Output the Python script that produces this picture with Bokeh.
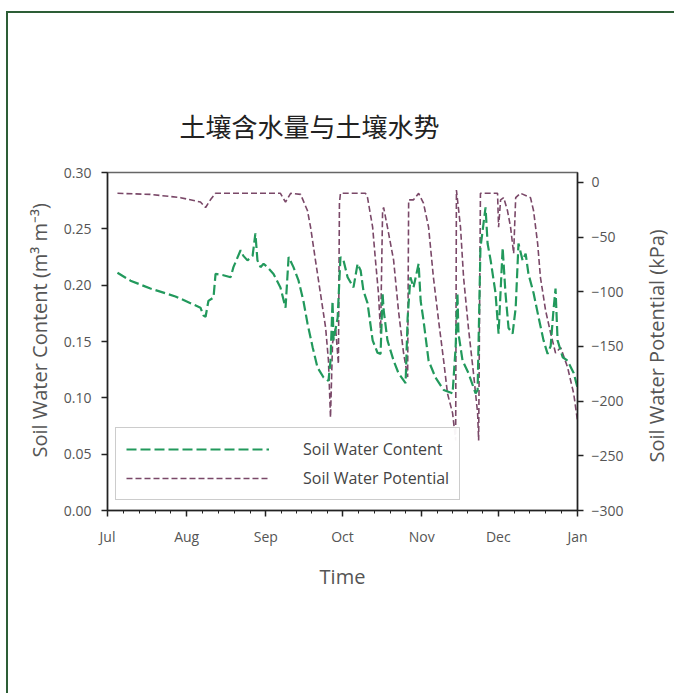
import math
from bokeh.plotting import figure
from bokeh.layouts import row
from bokeh.models import (Range1d, LinearAxis, FixedTicker, Legend, LegendItem,
                          NumeralTickFormatter, Title)
from bokeh.embed import file_html
from bokeh.resources import INLINE

# ---- data (days since 1 July) ----
month_labels = ["Jul", "Aug", "Sep", "Oct", "Nov", "Dec", "Jan"]
month_start_days = [0, 31, 62, 92, 123, 153, 184]

swc_ticks = [0.00, 0.05, 0.10, 0.15, 0.20, 0.25, 0.30]
swp_ticks = [0, -50, -100, -150, -200, -250, -300]

swc_days = [3.9, 9.0, 16.8, 26.6, 36.4, 37.6, 38.4, 39.5, 41.5, 42.3, 45.0, 48.2, 49.3, 52.1,
            53.2, 54.8, 56.8, 57.9, 58.7, 59.9, 61.1, 62.6, 65.0, 67.7, 69.7, 70.9, 72.8,
            74.8, 76.7, 78.3, 80.3, 82.2, 84.6, 86.5, 87.3, 88.1, 88.5, 90.1, 91.2, 92.4,
            94.0, 96.3, 97.9, 99.1, 100.2, 101.8, 103.8, 105.7, 106.9, 107.7, 108.1, 109.6,
            112.0, 113.9, 116.7, 117.5, 118.6, 119.8, 121.8, 122.6, 123.7, 125.7, 128.4,
            131.6, 135.1, 136.3, 137.0, 137.4, 139.0, 141.3, 144.1, 144.9, 146.0, 148.0,
            148.8, 150.0, 151.9, 153.1, 154.7, 155.8, 157.0, 158.6, 159.8, 160.9, 162.5,
            163.7, 164.8, 166.8, 168.8, 170.7, 172.3, 173.5, 174.6, 175.4, 176.2, 178.2,
            180.1, 182.5, 184.0]
swc_values = [0.211, 0.204, 0.197, 0.190, 0.180, 0.173, 0.172, 0.186, 0.189, 0.210, 0.209,
              0.207, 0.216, 0.231, 0.226, 0.222, 0.226, 0.246, 0.222, 0.216, 0.219, 0.216,
              0.210, 0.198, 0.180, 0.225, 0.216, 0.204, 0.186, 0.166, 0.145, 0.127, 0.118,
              0.115, 0.133, 0.186, 0.151, 0.171, 0.225, 0.222, 0.207, 0.198, 0.219, 0.213,
              0.195, 0.184, 0.151, 0.140, 0.139, 0.193, 0.178, 0.151, 0.133, 0.122, 0.113,
              0.171, 0.207, 0.198, 0.219, 0.186, 0.169, 0.133, 0.118, 0.107, 0.104, 0.145,
              0.193, 0.157, 0.133, 0.122, 0.104, 0.107, 0.233, 0.269, 0.237, 0.222, 0.193,
              0.157, 0.233, 0.193, 0.162, 0.157, 0.180, 0.237, 0.222, 0.228, 0.210, 0.193,
              0.171, 0.151, 0.139, 0.146, 0.178, 0.197, 0.151, 0.136, 0.133, 0.122, 0.109]

swp_days = [3.9, 16.8, 28.6, 36.4, 38.4, 40.3, 42.3, 56.0, 67.7, 68.9, 69.7, 71.7, 75.6,
            78.3, 79.5, 81.4, 83.4, 85.4, 86.5, 87.3, 88.1, 89.3, 90.4, 90.8, 91.2, 101.0,
            101.8, 103.8, 104.9, 106.1, 106.9, 107.7, 108.1, 109.6, 112.0, 113.9, 115.9,
            117.5, 117.9, 119.8, 121.8, 123.7, 125.7, 127.6, 129.6, 131.6, 133.1, 135.1,
            136.3, 136.6, 138.2, 139.4, 141.3, 143.3, 144.9, 145.3, 146.0, 152.7, 153.1,
            153.9, 155.1, 156.6, 157.8, 159.0, 159.8, 161.7, 165.6, 166.8, 168.4, 169.5,
            171.5, 173.5, 175.4, 177.4, 180.1, 182.5, 184.0]
swp_values = [-10, -11, -14, -18, -23, -16, -10, -10, -10, -15, -18, -10, -11,
              -26, -41, -71, -102, -133, -163, -215, -147, -133, -166, -19, -10, -10,
              -14, -41, -71, -102, -138, -26, -23, -41, -71, -117, -156,
              -178, -16, -16, -10, -19, -41, -87, -126, -163, -193, -211,
              -236, -7, -41, -87, -133, -175, -211, -236, -10, -10, -41,
              -16, -14, -26, -41, -65, -14, -10, -14, -26, -56, -87,
              -117, -138, -156, -151, -169, -193, -218]

GREEN = "#22995c"
PURPLE = "#7a4868"
TXT = "#555555"
FONT = "Open Sans"

p = figure(width=631, height=680, output_backend="svg", toolbar_location=None,
           x_range=Range1d(0, 184), y_range=Range1d(0, 0.30),
           min_border_left=99, min_border_right=62, min_border_top=159, min_border_bottom=183)
p.extra_y_ranges = {"swp": Range1d(-300, 9)}
p.xgrid.visible = False
p.ygrid.visible = False
p.outline_line_color = "#666666"
p.outline_line_width = 1.5

p.title.text = "土壤含水量与土壤水势"
p.title.text_font = "Noto Sans CJK SC"
p.title.text_font_size = "26px"
p.title.text_font_style = "normal"
p.title.text_color = "#222222"
p.title.align = "left"
p.title.offset = 72
p.title.standoff = 58

r_swp = p.line(swp_days, swp_values, y_range_name="swp", line_color=PURPLE,
               line_width=1.6, line_dash="6 3")
r_swc = p.line(swc_days, swc_values, line_color=GREEN, line_width=2.2, line_dash="10 4")

# x axis
minor = []
for a, b in zip(month_start_days[:-1], month_start_days[1:]):
    minor += [a + (b - a) * k / 5 for k in range(1, 5)]
xa = p.xaxis[0]
xa.ticker = FixedTicker(ticks=month_start_days, minor_ticks=minor)
xa.major_label_overrides = {d: m for d, m in zip(month_start_days, month_labels)}
xa.axis_label = "Time"

# left axis
ya = p.yaxis[0]
ya.ticker = FixedTicker(ticks=swc_ticks)
ya.formatter = NumeralTickFormatter(format="0.00")
ya.minor_tick_line_color = None

# right axis
ra = LinearAxis(y_range_name="swp", ticker=FixedTicker(ticks=swp_ticks))
ra.minor_tick_line_color = None
p.add_layout(ra, "right")

for ax in [xa, ya, ra]:
    ax.axis_line_color = "#222222"
    ax.axis_line_width = 1.5
    ax.major_tick_line_color = "#222222"
    ax.major_tick_line_width = 1.5
    ax.major_tick_out = 6
    ax.major_tick_in = 0
    ax.major_label_text_font = FONT
    ax.major_label_text_font_size = "14px"
    ax.major_label_text_color = TXT
    ax.axis_label_text_font = FONT
    ax.axis_label_text_font_size = "20px"
    ax.axis_label_text_font_style = "normal"
    ax.axis_label_text_color = TXT
ya.major_label_standoff = 10
ra.major_label_standoff = 8
xa.minor_tick_line_color = "#222222"
xa.minor_tick_out = 3
xa.minor_tick_in = 0
xa.major_label_standoff = 10
xa.axis_label_standoff = 14

# left axis title (reads bottom to top)
left_title = Title(text="Soil Water Content (m³ m⁻³)", align="left", offset=53, standoff=16,
                   text_font=FONT, text_font_size="20px", text_font_style="normal",
                   text_color=TXT)
p.add_layout(left_title, "left")

legend = Legend(items=[LegendItem(label="Soil Water Content", renderers=[r_swc]),
                       LegendItem(label="Soil Water Potential", renderers=[r_swp])],
                location=(8, 10), glyph_width=143, glyph_height=20, label_standoff=34,
                padding=10, spacing=7, margin=0,
                label_text_font=FONT, label_text_font_size="16px", label_text_color="#444444",
                border_line_color="#999999", border_line_width=1)
p.add_layout(legend)

# narrow strip that carries the right axis title, reading bottom to top
q = figure(width=35, height=680, output_backend="svg", toolbar_location=None,
           x_range=Range1d(0, 1), y_range=Range1d(0, 1),
           x_axis_location=None, y_axis_location=None,
           min_border_left=26, min_border_right=0, min_border_top=159, min_border_bottom=183)
q.outline_line_color = None
q.xgrid.visible = False
q.ygrid.visible = False
right_title = Title(text="Soil Water Potential (kPa)", align="left", offset=48, standoff=2,
                    text_font=FONT, text_font_size="20px", text_font_style="normal",
                    text_color=TXT)
q.add_layout(right_title, "left")

layout = row(p, q, spacing=0)
layout.styles = {"margin-left": "6px", "margin-top": "11px",
                 "border-left": "2px solid #2d5e36", "border-top": "2px solid #2d5e36"}

open("out.html", "w").write(file_html(layout, INLINE))
